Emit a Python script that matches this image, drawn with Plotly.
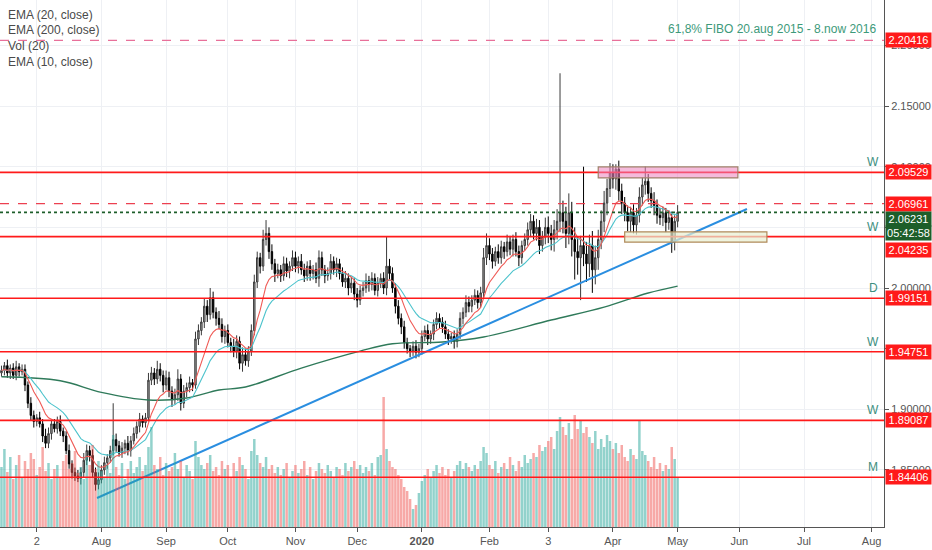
import plotly.graph_objects as go
import pandas as pd

# ---------------- data ----------------
first_open = 1.930
closes = [
    1.932, 1.936, 1.930, 1.934, 1.928, 1.935, 1.931, 1.933, 1.920, 1.905,
    1.895, 1.890, 1.893, 1.888, 1.878, 1.872, 1.880, 1.888, 1.884, 1.890,
    1.882, 1.878, 1.866, 1.855, 1.848, 1.845, 1.843, 1.848, 1.858, 1.866,
    1.862, 1.848, 1.838, 1.842, 1.850, 1.856, 1.860, 1.866, 1.875, 1.870,
    1.864, 1.868, 1.872, 1.866, 1.874, 1.880, 1.886, 1.892, 1.889, 1.893,
    1.924, 1.930, 1.925, 1.933, 1.928, 1.920, 1.926, 1.915, 1.908, 1.912,
    1.925, 1.905, 1.915, 1.918, 1.922, 1.920, 1.958, 1.965, 1.972, 1.985,
    1.978, 1.992, 1.980, 1.975, 1.970, 1.960, 1.965, 1.955, 1.952, 1.948,
    1.956, 1.938, 1.945, 1.940, 1.948, 1.965, 2.005, 2.025, 2.018, 2.040,
    2.045, 2.030, 2.020, 2.012, 2.015, 2.010, 2.020, 2.014, 2.018, 2.025,
    2.018, 2.022, 2.015, 2.010, 2.018, 2.012, 2.015, 2.008, 2.025, 2.015,
    2.010, 2.012, 2.022, 2.015, 2.020, 2.012, 2.005, 2.008, 2.000, 2.004,
    1.995, 1.990, 1.998, 2.000, 2.006, 2.003, 2.008, 1.998, 2.004, 2.008,
    2.000, 2.018, 2.012, 2.000, 1.985, 1.975, 1.968, 1.955, 1.950, 1.948,
    1.952, 1.947, 1.950, 1.960, 1.965, 1.958, 1.962, 1.970, 1.975, 1.972,
    1.968, 1.962, 1.958, 1.960, 1.956, 1.962, 1.975, 1.980, 1.988, 1.985,
    1.990, 1.994, 1.988, 1.996, 2.025, 2.035, 2.028, 2.022, 2.030, 2.025,
    2.034, 2.030, 2.038, 2.032, 2.040, 2.030, 2.025, 2.035, 2.040, 2.048,
    2.055, 2.045, 2.050, 2.035, 2.042, 2.050, 2.045, 2.040, 2.048, 2.055,
    2.062, 2.055, 2.045, 2.062, 2.040, 2.030, 2.025, 2.035, 2.028, 2.020,
    2.035, 2.015, 2.025, 2.040, 2.055, 2.070, 2.082, 2.095, 2.090, 2.098,
    2.080, 2.070, 2.062, 2.055, 2.062, 2.052, 2.060, 2.075, 2.085, 2.088,
    2.078, 2.072, 2.068, 2.060, 2.058, 2.062, 2.054, 2.058, 2.038, 2.055,
    2.0623,
]
# wick lengths beyond the candle body, in units of 0.001
upper_wick = [
    4, 3, 5, 3, 4, 5, 3, 4, 4, 3,
    5, 4, 3, 5, 4, 6, 5, 3, 4, 4,
    5, 3, 4, 5, 3, 4, 5, 4, 6, 5,
    4, 5, 4, 6, 4, 5, 3, 4, 30, 5,
    4, 5, 3, 6, 4, 5, 4, 5, 3, 4,
    6, 5, 4, 7, 5, 4, 6, 5, 4, 5,
    8, 4, 5, 4, 5, 3, 6, 5, 4, 6,
    5, 8, 5, 4, 6, 5, 4, 5, 4, 6,
    5, 4, 6, 5, 4, 5, 6, 5, 4, 8,
    11, 5, 6, 4, 5, 4, 6, 5, 4, 6,
    5, 4, 6, 5, 4, 5, 4, 6, 6, 5,
    4, 5, 6, 4, 5, 4, 5, 6, 4, 5,
    4, 5, 4, 5, 6, 4, 5, 4, 5, 4,
    5, 24, 6, 5, 4, 5, 4, 5, 4, 3,
    4, 5, 4, 5, 4, 5, 3, 4, 5, 4,
    4, 5, 4, 3, 5, 4, 5, 4, 6, 5,
    4, 5, 4, 5, 8, 10, 6, 5, 4, 6,
    5, 4, 6, 5, 4, 6, 5, 4, 5, 6,
    6, 5, 7, 6, 5, 8, 9, 7, 8, 10,
    115, 10, 12, 16, 9, 10, 12, 8, 65, 10,
    9, 12, 10, 8, 9, 10, 8, 8, 7, 4,
    7, 6, 5, 6, 5, 7, 6, 8, 6, 12,
    6, 5, 7, 5, 6, 5, 4, 6, 5, 5,
    6,
]
lower_wick = [
    3, 4, 4, 5, 3, 4, 4, 3, 5, 4,
    4, 5, 4, 3, 5, 4, 4, 5, 3, 4,
    4, 5, 3, 4, 5, 4, 3, 5, 4, 4,
    5, 4, 5, 4, 3, 4, 5, 4, 4, 5,
    3, 4, 5, 4, 5, 3, 4, 5, 4, 4,
    3, 4, 5, 4, 5, 6, 4, 5, 6, 4,
    5, 6, 4, 5, 4, 5, 3, 5, 4, 5,
    6, 4, 5, 6, 4, 5, 6, 4, 5, 5,
    6, 5, 7, 4, 5, 4, 4, 5, 6, 4,
    5, 6, 5, 7, 4, 5, 4, 5, 6, 4,
    5, 6, 4, 5, 4, 6, 5, 4, 7, 5,
    6, 4, 5, 4, 6, 5, 4, 5, 6, 4,
    5, 6, 4, 5, 4, 6, 5, 4, 5, 4,
    5, 6, 5, 4, 6, 5, 6, 5, 4, 5,
    4, 5, 4, 5, 4, 5, 4, 5, 4, 5,
    5, 4, 5, 4, 6, 5, 4, 5, 4, 5,
    5, 4, 5, 4, 5, 6, 5, 6, 4, 5,
    5, 6, 4, 5, 6, 4, 7, 5, 4, 5,
    6, 5, 6, 7, 5, 6, 8, 9, 10, 8,
    9, 10, 12, 9, 14, 23, 14, 35, 10, 15,
    11, 19, 12, 10, 8, 9, 10, 7, 8, 9,
    8, 9, 7, 8, 9, 7, 8, 6, 7, 8,
    7, 6, 8, 7, 6, 7, 8, 6, 9, 7,
    5,
]
volume = [
    60, 78, 55, 70, 48, 62, 72, 50, 66, 58,
    74, 68, 52, 60, 80, 56, 64, 48, 58, 62,
    50, 66, 72, 58, 64, 76, 54, 60, 48, 70,
    62, 82, 58, 66, 56, 50, 62, 54, 92, 60,
    52, 64, 48, 58, 66, 54, 60, 70, 56, 62,
    80, 100, 62, 58, 70, 52, 64, 56, 60, 74,
    58, 66, 50, 62, 56, 48, 86, 70, 62, 58,
    64, 72, 56, 60, 52, 66, 58, 62, 50, 64,
    56, 70, 62, 58, 48, 76, 88, 72, 64, 60,
    70, 58, 62, 54, 60, 52, 58, 64, 50, 56,
    62, 54, 58, 66, 52, 60, 48, 56, 64, 58,
    54, 62, 56, 50, 60, 58, 52, 64, 56, 60,
    66, 58, 62, 54, 60, 56, 64, 52, 70, 72,
    130, 78, 66, 60, 58, 52, 48, 40, 36, 28,
    18, 22, 34, 46, 52, 58, 50, 56, 62, 54,
    60, 52, 58, 50, 56, 62, 66, 58, 64, 60,
    56, 62, 58, 66, 80, 74, 62, 58, 66, 54,
    60, 64, 58, 70, 62, 56, 66, 60, 72, 64,
    68, 74, 70, 82, 76, 80, 86, 90, 78, 96,
    110, 100, 92, 104, 88, 112, 98, 106, 94, 100,
    90, 84, 96, 78, 88, 80, 92, 86, 78, 84,
    74, 82, 70, 66, 78, 72, 68, 106, 76, 72,
    66, 60, 70, 58, 64, 56, 62, 58, 80, 68,
    50,
]
ema200_idx = [0, 20, 34, 50, 63, 74, 83, 102, 122, 133, 150, 164, 187, 205, 220, 230]
ema200_val = [1.9268, 1.9235, 1.9140, 1.9077, 1.9093, 1.9159, 1.9184, 1.9340,
              1.9480, 1.9540, 1.9555, 1.9596, 1.9736, 1.9843, 1.9959, 2.0016]

levels = [2.09529, 2.04235, 1.99151, 1.94751, 1.89087, 1.84406]
level_tf = ["W", "W", "D", "W", "W", "M"]
dashed_levels = [2.20416, 2.06961]
last_price = 2.06231
countdown = "05:42:58"
# vertical pixel offsets TradingView applies to price tags so they do not overlap
tag_shift = {2.04235: -13, 2.06231: -7}

pink_zone_x = ["2020-03-25", "2020-05-29 12:00"]
pink_zone_y = [2.0907, 2.0998]
beige_zone_x = ["2020-04-07", "2020-06-12 09:00"]
beige_zone_y = [2.0379, 2.0462]
trend_x = ["2019-07-30 12:00", "2020-06-03 14:00"]
trend_y = [1.8269, 2.0651]

tick_dates = ["2019-07-02", "2019-08-01", "2019-09-02", "2019-10-01", "2019-11-01",
              "2019-12-02", "2020-01-01", "2020-02-03", "2020-03-02", "2020-04-01",
              "2020-05-01", "2020-06-01", "2020-07-01", "2020-08-03"]
tick_text = ["2", "Aug", "Sep", "Oct", "Nov", "Dec", "<b>2020</b>", "Feb", "3",
             "Apr", "May", "Jun", "Jul", "Aug"]
legend_lines = ["EMA (20, close)", "EMA (200, close)", "Vol (20)", "EMA (10, close)"]
fibo_text = "61,8% FIBO 20.aug 2015 - 8.now 2016"

# ---------------- build ----------------
dates = pd.bdate_range(end="2020-05-01", periods=len(closes))
opens = [first_open] + closes[:-1]
highs = [max(o, c) + u / 1000 for o, c, u in zip(opens, closes, upper_wick)]
lows = [min(o, c) - d / 1000 for o, c, d in zip(opens, closes, lower_wick)]


def ema(vals, n):
    k = 2 / (n + 1)
    out, e = [], vals[0]
    for v in vals:
        e = v * k + e * (1 - k)
        out.append(e)
    return out


ema10 = ema(closes, 10)
ema20 = ema(closes, 20)
vol_colors = ["rgba(38,166,154,0.5)" if c >= o else "rgba(239,83,80,0.5)"
              for o, c in zip(opens, closes)]

FONT = "Liberation Sans"
fig = go.Figure()
fig.add_trace(go.Bar(x=dates, y=volume, marker_color=vol_colors, marker_line_width=0,
                     yaxis="y2", hoverinfo="skip"))
fig.add_trace(go.Scatter(x=[dates[i] for i in ema200_idx], y=ema200_val, mode="lines",
                         line=dict(color="#2f7a5a", width=1.4, shape="spline"),
                         hoverinfo="skip"))
fig.add_trace(go.Candlestick(x=dates, open=opens, high=highs, low=lows, close=closes,
                             increasing=dict(line=dict(color="#3a3a3a", width=1),
                                             fillcolor="#a6a6a6"),
                             decreasing=dict(line=dict(color="#000000", width=1),
                                             fillcolor="#000000"),
                             whiskerwidth=0, hoverinfo="skip"))
fig.add_trace(go.Scatter(x=dates, y=ema20, mode="lines",
                         line=dict(color="#4cc3cc", width=1.1), hoverinfo="skip"))
fig.add_trace(go.Scatter(x=dates, y=ema10, mode="lines",
                         line=dict(color="#ef5a55", width=1.1), hoverinfo="skip"))
fig.add_trace(go.Scatter(x=trend_x, y=trend_y, mode="lines",
                         line=dict(color="#2a8ee0", width=2), hoverinfo="skip"))

shapes = []
for lv in levels:
    shapes.append(dict(type="line", xref="paper", x0=0, x1=1, yref="y", y0=lv, y1=lv,
                       line=dict(color="#ff1a1a", width=1.6)))
shapes.append(dict(type="line", xref="paper", x0=0, x1=1, yref="y",
                   y0=dashed_levels[0], y1=dashed_levels[0],
                   line=dict(color="#e8709a", width=1.2, dash="dash")))
shapes.append(dict(type="line", xref="paper", x0=0, x1=1, yref="y",
                   y0=dashed_levels[1], y1=dashed_levels[1],
                   line=dict(color="#ec4050", width=1.2, dash="dash")))
shapes.append(dict(type="line", xref="paper", x0=0, x1=1, yref="y",
                   y0=last_price, y1=last_price,
                   line=dict(color="#1d5e2a", width=1.6, dash="dot")))
shapes.append(dict(type="rect", xref="x", yref="y", x0=pink_zone_x[0], x1=pink_zone_x[1],
                   y0=pink_zone_y[0], y1=pink_zone_y[1],
                   fillcolor="rgba(236,130,190,0.55)", line=dict(color="#a0806a", width=1.2)))
shapes.append(dict(type="rect", xref="x", yref="y", x0=beige_zone_x[0], x1=beige_zone_x[1],
                   y0=beige_zone_y[0], y1=beige_zone_y[1],
                   fillcolor="rgba(232,240,210,0.7)", line=dict(color="#b08a5a", width=1.2)))


def tag(price, text, color, shift=0):
    return dict(xref="paper", x=1, xanchor="left", xshift=1, yref="y", y=price,
                yshift=shift, text=text, showarrow=False, bgcolor=color,
                font=dict(color="white", size=11, family=FONT),
                width=43, height=12, borderpad=1, align="center")


annotations = []
for lv in levels + dashed_levels:
    annotations.append(tag(lv, f"{lv:.5f}", "#ff1a1a", tag_shift.get(lv, 0)))
annotations.append(tag(last_price, f"{last_price:.5f}", "#1d5e2a", tag_shift[last_price]))
annotations.append(tag(last_price, countdown, "#1d5e2a", tag_shift[last_price] - 14))
for lv, tf in zip(levels, level_tf):
    annotations.append(dict(xref="paper", x=0.988, xanchor="center", yref="y", y=lv,
                            yanchor="bottom", yshift=1, text=tf, showarrow=False,
                            font=dict(color="#3d8f80", size=12, family=FONT)))
annotations.append(dict(xref="paper", x=0.993, xanchor="right", yref="y",
                        y=dashed_levels[0], yanchor="bottom", yshift=2, text=fibo_text,
                        showarrow=False, font=dict(color="#3d9a7a", size=12, family=FONT)))
for k, t in enumerate(legend_lines):
    annotations.append(dict(xref="paper", x=0.007, xanchor="left", yref="paper",
                            y=1 - (15 + 15.5 * k) / 527, yanchor="middle", text=t,
                            showarrow=False, font=dict(color="#4a4a4a", size=12, family=FONT)))

fig.update_layout(
    width=932, height=550,
    margin=dict(l=0, r=48, t=0, b=23),
    paper_bgcolor="white", plot_bgcolor="white",
    showlegend=False, bargap=0.15, hovermode=False,
    font=dict(family=FONT, color="#555555", size=11),
    shapes=shapes, annotations=annotations,
    xaxis=dict(type="date", range=["2019-06-13 12:00", "2020-08-07 05:00"],
               rangebreaks=[dict(bounds=["sat", "mon"])],
               rangeslider=dict(visible=False),
               tickvals=tick_dates, ticktext=tick_text, tickangle=0,
               ticks="outside", ticklen=4, tickcolor="#555555",
               showline=True, linecolor="#555555", linewidth=1,
               showgrid=True, gridcolor="#eef0f4", gridwidth=1,
               tickfont=dict(size=11, color="#555555")),
    yaxis=dict(side="right", range=[1.803, 2.2374], dtick=0.05, tick0=0,
               tickformat=".5f", ticks="outside", ticklen=4, tickcolor="#555555",
               showline=True, linecolor="#555555", linewidth=1,
               showgrid=True, gridcolor="#eef0f4", gridwidth=1, zeroline=False,
               tickfont=dict(size=11, color="#555555")),
    yaxis2=dict(overlaying="y", range=[0, 527], visible=False, fixedrange=True),
)

fig.write_html("out.html",
               config={"displayModeBar": False},
               post_script="document.body.style.margin='0px';"
                           "document.body.style.overflow='hidden';")
